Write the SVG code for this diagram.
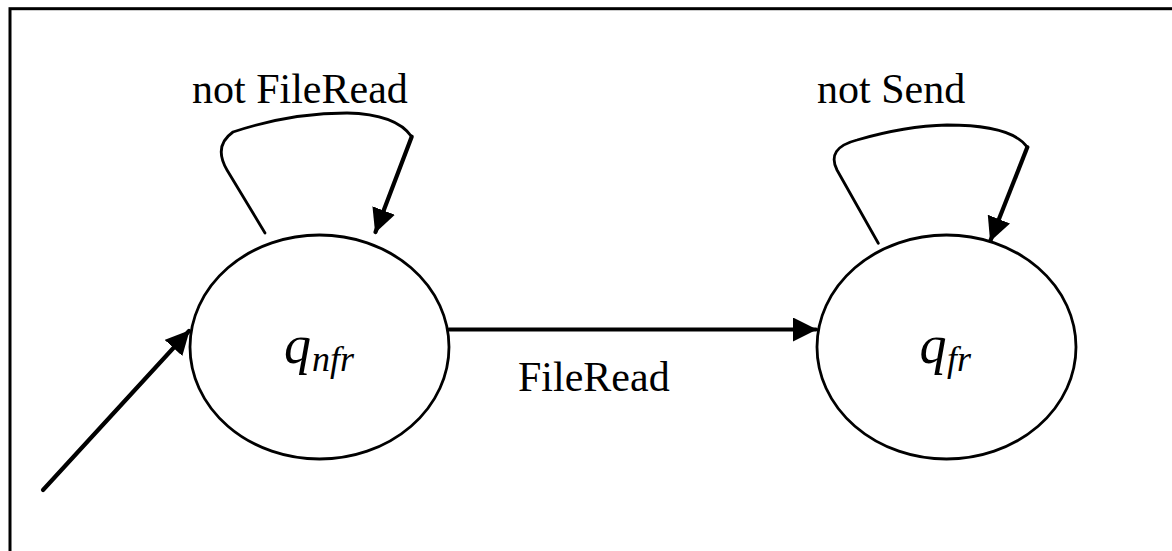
<svg xmlns="http://www.w3.org/2000/svg" width="1172" height="551" viewBox="0 0 1172 551">
<style>
.frame{fill:#fff;stroke:#000;stroke-width:3}
.state{fill:none;stroke:#000;stroke-width:2.8}
.thin{fill:none;stroke:#000;stroke-width:2.8;stroke-linecap:round;stroke-linejoin:round}
.thick{fill:none;stroke:#000;stroke-width:4.2;stroke-linecap:round}
.lbl{font-family:"Liberation Serif","Times New Roman",serif;font-size:42px;fill:#000}
.q{font-family:"Liberation Serif","Times New Roman",serif;font-style:italic;fill:#000}
</style>
<defs>
<marker id="ah" markerUnits="userSpaceOnUse" viewBox="0 0 24 24" refX="23" refY="12" markerWidth="24" markerHeight="24" orient="auto">
<path d="M0,0 L24,12 L0,24 Z" fill="#000"/>
</marker>
</defs>
<rect class="frame" x="10" y="8.7" width="1200" height="600"/>
<g id="node-qnfr">
<ellipse class="state" cx="319.5" cy="347" rx="129.5" ry="112"/>
<text class="q" x="284" y="363" font-size="54">q</text>
<text class="q" x="312" y="371" font-size="36">nfr</text>
</g>
<g id="node-qfr">
<ellipse class="state" cx="946.5" cy="347" rx="129.5" ry="112"/>
<text class="q" x="919.5" y="363" font-size="54">q</text>
<text class="q" x="947" y="371" font-size="36">fr</text>
</g>
<g id="connectors">
<line class="thick" x1="43" y1="490" x2="189" y2="331" marker-end="url(#ah)"/>
<line class="thick" x1="449" y1="329.5" x2="816" y2="329.5" marker-end="url(#ah)"/>
<path class="thin" d="M265,233 L227,170 Q213,146 233,132 Q290,113 347,113 Q396,114 411.7,136.7"/>
<line class="thick" x1="411.7" y1="136.7" x2="375.5" y2="232" marker-end="url(#ah)"/>
<path class="thin" d="M878.3,243.3 L837,170 Q826,148 857,140 Q905,126 947,125 Q1012,125 1027.3,147.3"/>
<line class="thick" x1="1027.3" y1="147.3" x2="990.5" y2="240.5" marker-end="url(#ah)"/>
</g>
<g id="labels">
<text class="lbl" x="192" y="102.7">not FileRead</text>
<text class="lbl" x="817" y="102.7">not Send</text>
<text class="lbl" x="518" y="390.7">FileRead</text>
</g>
</svg>
